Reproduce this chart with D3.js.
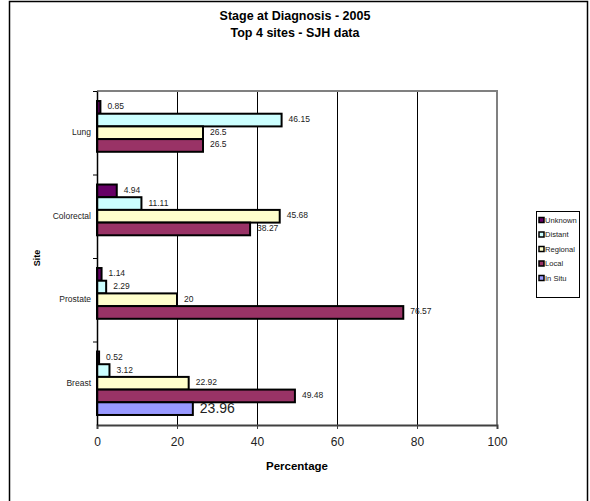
<!DOCTYPE html>
<html><head><meta charset="utf-8">
<script src="https://cdn.jsdelivr.net/npm/d3@7"></script>
<style>body{margin:0;background:#fff}svg{display:block;font-family:"Liberation Sans",Arial,sans-serif}</style>
</head><body>
<svg id="c" width="590" height="501"></svg>
<script>
const sites = ["Lung","Colorectal","Prostate","Breast"];
const series = ["Unknown","Distant","Regional","Local","In Situ"];
const unknown = [0.85, 4.94, 1.14, 0.52];
const distant = [46.15, 11.11, 2.29, 3.12];
const regional = [26.5, 45.68, 20, 22.92];
const local = [26.5, 38.27, 76.57, 49.48];
const inSitu = [null, null, null, 23.96];
const xTicks = [0, 20, 40, 60, 80, 100];
const colors = ["#660066","#CCFFFF","#FFFFCC","#993366","#9999FF"];

const values = [unknown, distant, regional, local, inSitu];
const svg = d3.select("#c");
const L = 97, R = 497, T = 91, B = 425;

// outer frame
svg.append("rect").attr("x",9.5).attr("y",1.5).attr("width",578).attr("height",520)
  .attr("fill","none").attr("stroke","#000").attr("stroke-width",1.5);

// titles
svg.append("text").attr("x",295).attr("y",20).attr("text-anchor","middle")
  .attr("font-size",12.5).attr("font-weight","bold").text("Stage at Diagnosis - 2005");
svg.append("text").attr("x",295).attr("y",37).attr("text-anchor","middle")
  .attr("font-size",12.5).attr("font-weight","bold").text("Top 4 sites - SJH data");

const x = d3.scaleLinear().domain([0,100]).range([L,R]);
const y = d3.scaleBand().domain(sites).range([T,B]).padding(0);
const yi = d3.scaleBand().domain(series).range([0,y.bandwidth()]).paddingInner(0).paddingOuter(0.79);

// gridlines
svg.append("g").selectAll("line").data(xTicks.filter(t=>t>0&&t<100)).join("line")
  .attr("x1",d=>x(d)+0.5).attr("x2",d=>x(d)+0.5).attr("y1",T).attr("y2",B)
  .attr("stroke","#000").attr("stroke-width",1);

// plot border top/right
svg.append("path").attr("d",`M${L},${T} H${R} V${B}`).attr("fill","none")
  .attr("stroke","#808080").attr("stroke-width",2);

// bars
const data = [];
sites.forEach((s,i)=>series.forEach((k,j)=>{ if(values[j][i]!=null) data.push({s,k,v:values[j][i],j}); }));
svg.append("g").selectAll("rect").data(data).join("rect")
  .attr("x",x(0)).attr("y",d=>y(d.s)+yi(d.k))
  .attr("width",d=>x(d.v)-x(0)).attr("height",yi.bandwidth())
  .attr("fill",d=>colors[d.j]).attr("stroke","#000").attr("stroke-width",2);

// labels
svg.append("g").selectAll("text").data(data).join("text")
  .attr("x",d=>x(d.v)+7).attr("y",d=>y(d.s)+yi(d.k)+yi.bandwidth()/2-1)
  .attr("dy","0.35em")
  .attr("font-size",d=>d.k==="In Situ"?14:8.5).attr("fill","#222")
  .text(d=>d.v);

// x axis
const xa = svg.append("g").attr("transform",`translate(0,${B})`)
  .call(d3.axisBottom(x).tickValues(xTicks).tickSize(4).tickPadding(8).tickFormat(d3.format("d")));
xa.select(".domain").attr("stroke","#404040").attr("stroke-width",2);
xa.selectAll(".tick line").attr("stroke","#404040");
xa.selectAll("text").attr("font-size",12).attr("fill","#222").attr("font-family","Liberation Sans, Arial, sans-serif");

// y axis
const ya = svg.append("g").attr("transform",`translate(${L},0)`)
  .call(d3.axisLeft(y).tickSize(0).tickPadding(6));
ya.select(".domain").attr("stroke","#000").attr("stroke-width",1.5);
ya.selectAll("text").attr("font-size",8.5).attr("fill","#222").attr("font-family","Liberation Sans, Arial, sans-serif");
// y tick marks at band boundaries
svg.append("g").selectAll("line").data(sites).join("line")
  .attr("x1",L-4).attr("x2",L).attr("y1",d=>y(d)+0.5).attr("y2",d=>y(d)+0.5)
  .attr("stroke","#000");

// axis titles
svg.append("text").attr("x",297).attr("y",470).attr("text-anchor","middle")
  .attr("font-size",11.5).attr("font-weight","bold").text("Percentage");
svg.append("text").attr("transform","translate(40,258) rotate(-90)").attr("text-anchor","middle")
  .attr("font-size",9).attr("font-weight","bold").text("Site");

// legend
const lg = svg.append("g");
lg.append("rect").attr("x",536.5).attr("y",211.5).attr("width",43).attr("height",86)
  .attr("fill","#fff").attr("stroke","#000").attr("stroke-width",1);
const li = lg.selectAll("g").data(series).join("g")
  .attr("transform",(d,i)=>`translate(538.5,${220+i*14.5})`);
li.append("rect").attr("x",0.5).attr("y",-2.5).attr("width",5).attr("height",5)
  .attr("fill",(d,i)=>colors[i]).attr("stroke","#000").attr("stroke-width",1.5);
li.append("text").attr("x",6.5).attr("y",0).attr("dy","0.35em").attr("font-size",7.6)
  .attr("fill","#222").text(d=>d);
</script>
</body></html>
